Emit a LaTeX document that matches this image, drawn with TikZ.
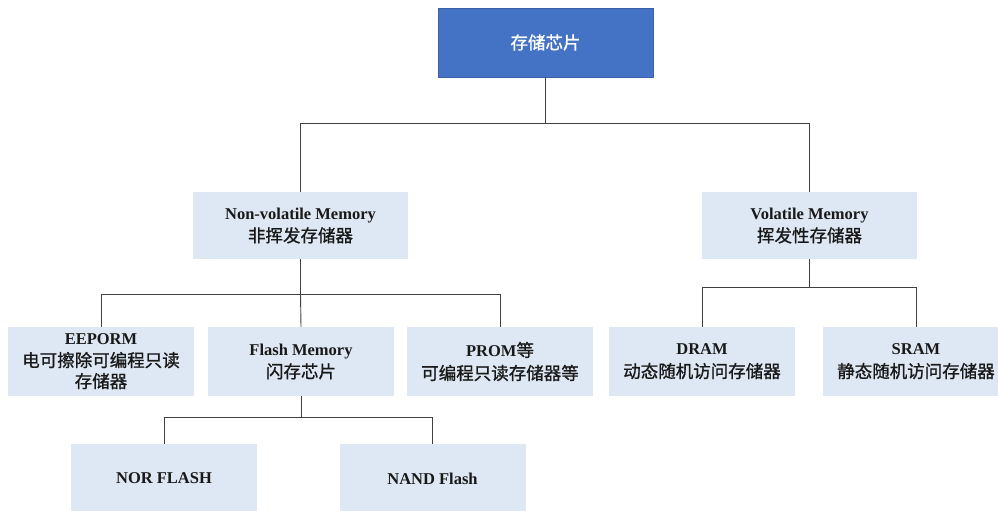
\documentclass[tikz,border=0pt]{standalone}
\usepackage{fontspec}
\setmainfont{Liberation Serif}
\newfontfamily\cjk[FakeBold=1]{Noto Sans CJK SC}
\definecolor{topblue}{HTML}{4472C4}
\definecolor{lightbox}{HTML}{DEE8F4}
\definecolor{linec}{HTML}{404040}
\begin{document}
\begin{tikzpicture}[x=1pt,y=-1pt,
  boxbase/.style={rectangle, inner sep=0pt, align=center, font=\fontsize{16.5}{22}\selectfont\bfseries, text=black!90},
  lightnode/.style={boxbase, fill=lightbox, minimum width=186pt, minimum height=69pt},
  widenode/.style={boxbase, fill=lightbox, minimum width=215pt, minimum height=67pt},
  topnode/.style={boxbase, fill=topblue, draw=topblue!85!black, line width=0.6pt, minimum width=215pt, minimum height=69pt, text=white},
  conn/.style={draw=linec, line width=0.9pt}
]
\useasboundingbox (0,0) rectangle (998,511);
\begin{scope}
\clip (0,0) rectangle (998,511);
\newcommand{\zh}[1]{{\cjk\fontsize{17.5}{22}\selectfont\mdseries #1}}
\node[topnode] (top) at (545.5,42.5) {\zh{存储芯片}};
\node[widenode] (nv) at (300.5,225.5) {Non-volatile Memory\\[1pt]\zh{非挥发存储器}};
\node[widenode] (vol) at (809.5,225.5) {Volatile Memory\\[1pt]\zh{挥发性存储器}};
\node[lightnode] (ee) at (101,361.5) {EEPORM\\[0pt]\zh{电可擦除可编程只读}\\[-1pt]\zh{存储器}};
\node[lightnode] (flash) at (301,361.5) {Flash Memory\\[1pt]\zh{闪存芯片}};
\node[lightnode] (prom) at (500,361.5) {PROM\zh{等}\\[1pt]\zh{可编程只读存储器等}};
\node[lightnode] (dram) at (702,361.5) {DRAM\\[1pt]\zh{动态随机访问存储器}};
\node[lightnode] (sram) at (916,361.5) {SRAM\\[1pt]\zh{静态随机访问存储器}};
\node[lightnode] (nor) at (164,478.5) {NOR FLASH};
\node[lightnode] (nand) at (432.5,478.5) {NAND Flash};

\coordinate (j1) at (545.5,123);
\coordinate (j2) at (300.5,294);
\coordinate (j3) at (809.5,287);
\coordinate (j4) at (301,417);

\draw[conn] (top.south) -- (j1);
\draw[conn] (j1) -| (nv.north);
\draw[conn] (j1) -| (vol.north);
\draw[conn] (nv.south) -- (j2);
\draw[conn] (j2) -| (ee.north);
\draw[conn] (j2) -| (prom.north);
\draw[conn] (j2) -- (flash.north);
\draw[conn] (vol.south) -- (j3);
\draw[conn] (j3) -| (dram.north);
\draw[conn] (j3) -| (sram.north);
\draw[conn] (flash.south) -- (j4);
\draw[conn] (j4) -| (nor.north);
\draw[conn] (j4) -| (nand.north);
\end{scope}
\end{tikzpicture}
\end{document}
